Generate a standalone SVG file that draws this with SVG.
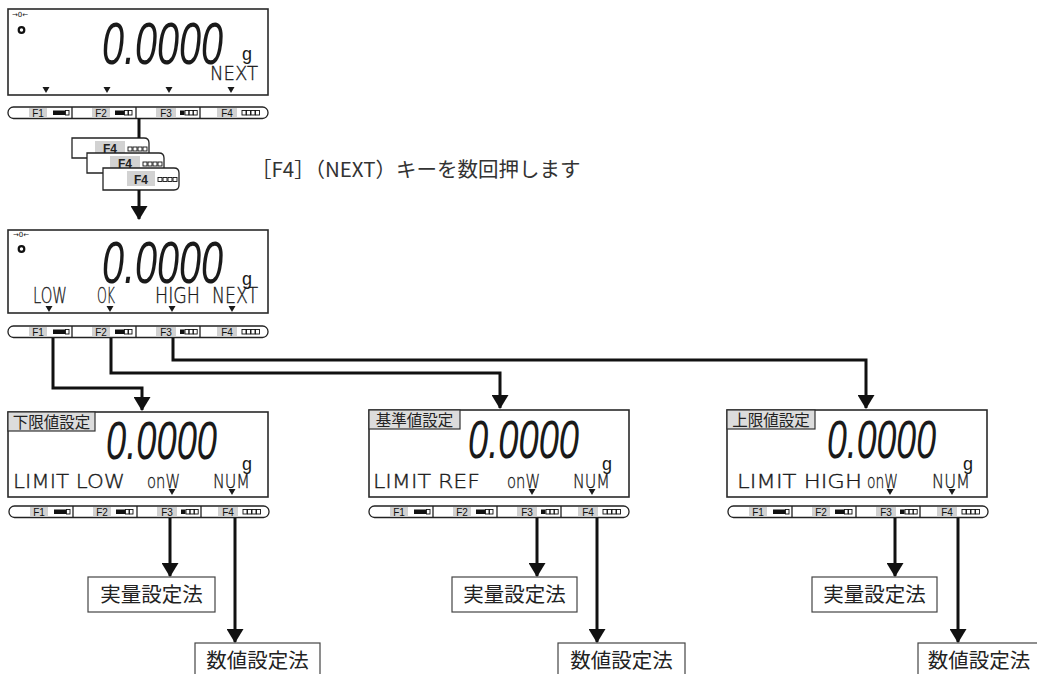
<svg xmlns="http://www.w3.org/2000/svg" width="1037" height="674" viewBox="0 0 1037 674">
<style>
.bg{fill:#fff}
.lcd{fill:#fff;stroke:#2a2a2a;stroke-width:1.6}
.dig{font-family:"Liberation Sans",sans-serif;font-style:italic;fill:#1a1a1a}
.dg1{font-size:36px}
.dg2{font-size:33px}
.seg{font-family:"DejaVu Sans",sans-serif;font-weight:200;fill:#1a1a1a;stroke:#1a1a1a;stroke-width:0.35}
.unit{font-family:"Liberation Sans",sans-serif;font-size:18px;fill:#1a1a1a}
.zero{font-family:"DejaVu Sans",sans-serif;font-size:7px;fill:#111}
.ring{fill:none;stroke:#111;stroke-width:2.2}
.tri{fill:#1a1a1a}
.kb{fill:#fff;stroke:#222;stroke-width:1.3}
.kdiv{stroke:#222;stroke-width:1.3;fill:none}
.klab{fill:#d2d2d2}
.kt{font-family:"Liberation Sans",sans-serif;font-size:10px;fill:#111;text-anchor:middle}
.kt4{font-family:"Liberation Sans",sans-serif;font-size:12px;font-weight:bold;fill:#222;text-anchor:middle}
.icf{fill:#111}
.ico{fill:#fff;stroke:#111;stroke-width:0.9}
.tag{fill:#dcdcdc;stroke:#333;stroke-width:1.2}
.tagt{font-family:"Noto Sans CJK JP",sans-serif;font-size:15.5px;fill:#222;text-anchor:middle}
.box{fill:#fff;stroke:#444;stroke-width:1.2}
.boxt{font-family:"Noto Sans CJK JP",sans-serif;font-size:20.5px;fill:#222;text-anchor:middle}
.note{font-family:"Noto Sans CJK JP",sans-serif;font-size:20.5px;fill:#333}
.conn{fill:none;stroke:#111;stroke-width:3}
</style>
<defs>
<marker id="ah" markerUnits="userSpaceOnUse" markerWidth="14" markerHeight="17" viewBox="0 0 14 17" refX="13" refY="8.5" orient="auto">
<path d="M0,0 L14,8.5 L0,17 z" fill="#111"/>
</marker>
<path id="tri" d="M-3.5,0h7l-3.5,6z"/>
<g id="kbar">
<rect class="kb" x="0" y="0" width="260" height="11.5" rx="5.5"/>
<path class="kdiv" d="M64,0V11.5M128,0V11.5M192,0V11.5"/>
<rect class="klab" x="21" y="1" width="18" height="9.5"/>
<rect class="klab" x="84" y="1" width="18" height="9.5"/>
<rect class="klab" x="148" y="1" width="20" height="9.5"/>
<rect class="klab" x="209" y="1" width="20" height="9.5"/>
<text class="kt" x="30" y="9.5">F1</text>
<text class="kt" x="93" y="9.5">F2</text>
<text class="kt" x="158" y="9.5">F3</text>
<text class="kt" x="219" y="9.5">F4</text>
<rect class="icf" x="45" y="3.5" width="12" height="4.5"/>
<rect class="ico" x="57.5" y="3.5" width="3.5" height="4.5"/>
<rect class="icf" x="107" y="3.5" width="9" height="4.5"/>
<rect class="ico" x="116.5" y="3.5" width="3.5" height="4.5"/>
<rect class="ico" x="120.5" y="3.5" width="3.5" height="4.5"/>
<rect class="icf" x="172" y="3.5" width="4.5" height="4.5"/>
<rect class="ico" x="177" y="3.5" width="3.8" height="4.5"/>
<rect class="ico" x="181.2" y="3.5" width="3.8" height="4.5"/>
<rect class="ico" x="185.4" y="3.5" width="3.8" height="4.5"/>
<rect class="ico" x="234" y="3.5" width="4" height="4.5"/>
<rect class="ico" x="238.5" y="3.5" width="4" height="4.5"/>
<rect class="ico" x="243" y="3.5" width="4" height="4.5"/>
<rect class="ico" x="247.5" y="3.5" width="4" height="4.5"/>
</g>
</defs>
<rect class="bg" x="0" y="0" width="1037" height="674"/>

<g id="display-top">
<rect class="lcd" x="8" y="9" width="260" height="86"/>
<text class="zero" x="20" y="17" text-anchor="middle">→0←</text>
<circle class="ring" cx="21.5" cy="30" r="2.8"/>
<text class="dig dg1" transform="translate(102,64) scale(1.1,1.64)">0.0000</text>
<text class="unit" x="242" y="60">g</text>
<text class="seg" x="210" y="80" font-size="20" textLength="48" lengthAdjust="spacingAndGlyphs">NEXT</text>
<use href="#tri" class="tri" x="46" y="87"/>
<use href="#tri" class="tri" x="107" y="87"/>
<use href="#tri" class="tri" x="169" y="87"/>
<use href="#tri" class="tri" x="231" y="87"/>
<use href="#kbar" x="8" y="107"/>
</g>

<g id="f4-presses">
<path class="kb" d="M72,138H144Q149,138 149,143V153Q149,158 144,158H72Z"/>
<rect class="klab" x="95" y="141" width="30" height="13"/>
<text class="kt4" x="110" y="152.5">F4</text>
<rect class="ico" x="128" y="147" width="4" height="4"/>
<rect class="ico" x="133" y="147" width="4" height="4"/>
<rect class="ico" x="138" y="147" width="4" height="4"/>
<rect class="ico" x="143" y="147" width="4" height="4"/>
<path class="kb" d="M87,153H159Q164,153 164,158V168Q164,173 159,173H87Z"/>
<rect class="klab" x="110" y="156" width="30" height="13"/>
<text class="kt4" x="125" y="167.5">F4</text>
<rect class="ico" x="143" y="162" width="4" height="4"/>
<rect class="ico" x="148" y="162" width="4" height="4"/>
<rect class="ico" x="153" y="162" width="4" height="4"/>
<rect class="ico" x="158" y="162" width="4" height="4"/>
<path class="kb" d="M103,168H174Q179,168 179,173V185Q179,190 174,190H103Z"/>
<rect class="klab" x="127" y="171" width="28" height="15"/>
<text class="kt4" x="141" y="184">F4</text>
<rect class="ico" x="158" y="177.5" width="4" height="4"/>
<rect class="ico" x="163" y="177.5" width="4" height="4"/>
<rect class="ico" x="168" y="177.5" width="4" height="4"/>
<rect class="ico" x="173" y="177.5" width="4" height="4"/>
</g>

<g id="instruction">
<text class="note" x="251" y="177">［F4］（NEXT）キーを数回押します</text>
</g>

<g id="display-select">
<rect class="lcd" x="8" y="230" width="260" height="83"/>
<text class="zero" x="21" y="237" text-anchor="middle">→0←</text>
<circle class="ring" cx="21.5" cy="249" r="2.8"/>
<text class="dig dg1" transform="translate(102,283) scale(1.1,1.64)">0.0000</text>
<text class="unit" x="242" y="285">g</text>
<text class="seg" x="33" y="303" font-size="21" textLength="34" lengthAdjust="spacingAndGlyphs">LOW</text>
<text class="seg" x="97" y="303" font-size="21" textLength="18" lengthAdjust="spacingAndGlyphs">OK</text>
<text class="seg" x="155" y="303" font-size="21" textLength="45" lengthAdjust="spacingAndGlyphs">HIGH</text>
<text class="seg" x="212" y="303" font-size="21" textLength="46" lengthAdjust="spacingAndGlyphs">NEXT</text>
<use href="#tri" class="tri" x="49" y="306"/>
<use href="#tri" class="tri" x="110" y="306"/>
<use href="#tri" class="tri" x="172" y="306"/>
<use href="#tri" class="tri" x="232" y="306"/>
<use href="#kbar" x="8" y="326"/>
</g>

<g id="display-low">
<rect class="lcd" x="8" y="412" width="260" height="85"/>
<rect class="tag" x="8" y="412" width="87" height="19"/>
<text class="tagt" x="51.5" y="428">下限値設定</text>
<text class="dig dg2" transform="translate(106,459) scale(1.1,1.6)">0.0000</text>
<text class="unit" x="242" y="470">g</text>
<text class="seg" x="13" y="488" font-size="20" textLength="112" lengthAdjust="spacingAndGlyphs">LIMIT LOW</text>
<text class="seg" x="147" y="488" font-size="20" textLength="33" lengthAdjust="spacingAndGlyphs">onW</text>
<text class="seg" x="213" y="488" font-size="20" textLength="37" lengthAdjust="spacingAndGlyphs">NUM</text>
<use href="#tri" class="tri" x="172" y="489"/>
<use href="#tri" class="tri" x="232" y="489"/>
<use href="#kbar" x="9" y="506"/>
</g>

<g id="display-ref">
<rect class="lcd" x="369" y="410" width="260" height="87"/>
<rect class="tag" x="369" y="410" width="91" height="19"/>
<text class="tagt" x="414.5" y="426">基準値設定</text>
<text class="dig dg2" transform="translate(468,458) scale(1.1,1.6)">0.0000</text>
<text class="unit" x="602" y="470">g</text>
<text class="seg" x="373" y="488" font-size="20" textLength="107" lengthAdjust="spacingAndGlyphs">LIMIT REF</text>
<text class="seg" x="507" y="488" font-size="20" textLength="33" lengthAdjust="spacingAndGlyphs">onW</text>
<text class="seg" x="573" y="488" font-size="20" textLength="37" lengthAdjust="spacingAndGlyphs">NUM</text>
<use href="#tri" class="tri" x="532" y="489"/>
<use href="#tri" class="tri" x="592" y="489"/>
<use href="#kbar" x="369" y="506"/>
</g>

<g id="display-high">
<rect class="lcd" x="727" y="410" width="260" height="87"/>
<rect class="tag" x="727" y="410" width="88" height="19"/>
<text class="tagt" x="771" y="426">上限値設定</text>
<text class="dig dg2" transform="translate(827,458) scale(1.08,1.6)">0.0000</text>
<text class="unit" x="963" y="470">g</text>
<text class="seg" x="737" y="488" font-size="20" textLength="125" lengthAdjust="spacingAndGlyphs">LIMIT HIGH</text>
<text class="seg" x="867" y="488" font-size="20" textLength="31" lengthAdjust="spacingAndGlyphs">onW</text>
<text class="seg" x="932" y="488" font-size="20" textLength="38" lengthAdjust="spacingAndGlyphs">NUM</text>
<use href="#tri" class="tri" x="890" y="489"/>
<use href="#tri" class="tri" x="952" y="489"/>
<use href="#kbar" x="728" y="506"/>
</g>

<g id="method-actual-low"><rect class="box" x="88" y="577" width="127" height="35"/><text class="boxt" x="151.5" y="602">実量設定法</text></g>
<g id="method-num-low"><rect class="box" x="195" y="643" width="125" height="40"/><text class="boxt" x="257.5" y="668">数値設定法</text></g>
<g id="method-actual-ref"><rect class="box" x="452" y="577" width="125" height="35"/><text class="boxt" x="514.5" y="602">実量設定法</text></g>
<g id="method-num-ref"><rect class="box" x="558" y="643" width="127" height="40"/><text class="boxt" x="621.5" y="668">数値設定法</text></g>
<g id="method-actual-high"><rect class="box" x="812" y="577" width="125" height="35"/><text class="boxt" x="874.5" y="602">実量設定法</text></g>
<g id="method-num-high"><rect class="box" x="918" y="643" width="125" height="40"/><text class="boxt" x="979" y="668">数値設定法</text></g>

<g id="connectors">
<path class="conn" d="M139,118V138"/>
<path class="conn" d="M139,190V219" marker-end="url(#ah)"/>
<path class="conn" d="M53,338V388H142V410" marker-end="url(#ah)"/>
<path class="conn" d="M111,338V373H500V408" marker-end="url(#ah)"/>
<path class="conn" d="M173,338V360H866V408" marker-end="url(#ah)"/>
<path class="conn" d="M170,518V576" marker-end="url(#ah)"/>
<path class="conn" d="M235,518V642" marker-end="url(#ah)"/>
<path class="conn" d="M537,518V576" marker-end="url(#ah)"/>
<path class="conn" d="M597,518V642" marker-end="url(#ah)"/>
<path class="conn" d="M895,518V576" marker-end="url(#ah)"/>
<path class="conn" d="M958,518V642" marker-end="url(#ah)"/>
</g>
</svg>
